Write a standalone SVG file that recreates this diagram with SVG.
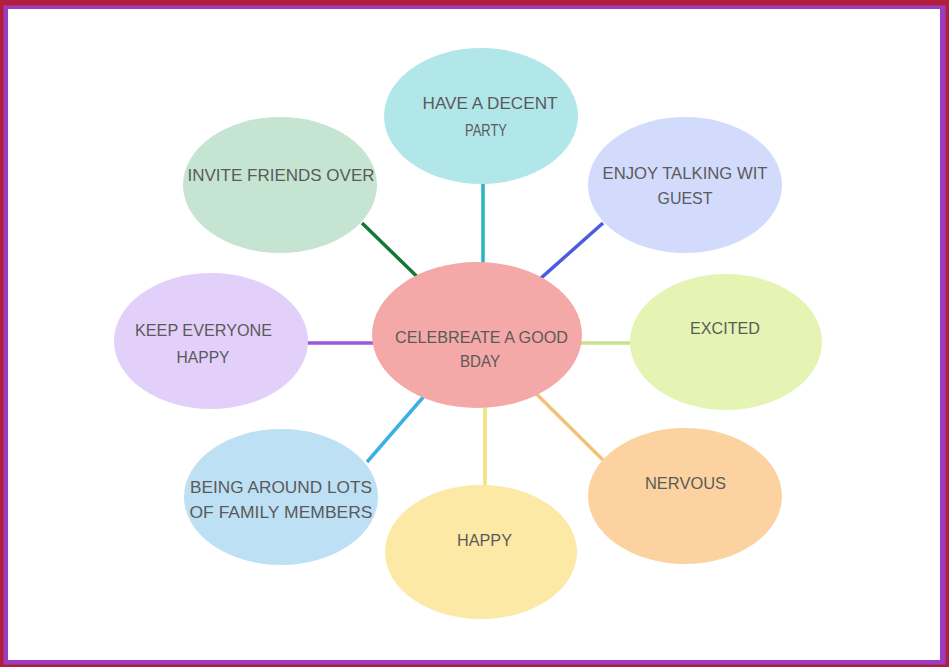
<svg xmlns="http://www.w3.org/2000/svg" width="949" height="667" viewBox="0 0 949 667">
<style>
.t{font-family:"Liberation Sans",Arial,sans-serif;font-size:17px;fill:#5a5a5a;text-anchor:middle}
.c{stroke-width:3.5;fill:none;stroke-linecap:butt}
</style>
<rect x="0" y="0" width="949" height="667" fill="#b21f3c"/>
<rect x="3.5" y="5.5" width="942" height="659" fill="#9c3cc2"/>
<rect x="8" y="9" width="932" height="651" fill="#ffffff"/>
<g id="connectors">
<line class="c" x1="477" y1="335" x2="362" y2="223" stroke="#13763a"/>
<line class="c" x1="483" y1="335" x2="483" y2="180" stroke="#26b3c2"/>
<line class="c" x1="477" y1="335" x2="603" y2="223" stroke="#4a5ce0"/>
<line class="c" x1="477" y1="343" x2="640" y2="343" stroke="#c9e38a"/>
<line class="c" x1="477" y1="343" x2="300" y2="343" stroke="#9a58dc"/>
<line class="c" x1="477" y1="335" x2="367" y2="462" stroke="#3ab0e6"/>
<line class="c" x1="485" y1="335" x2="485" y2="490" stroke="#f2e27a"/>
<line class="c" x1="477" y1="335" x2="603" y2="460" stroke="#f3c27a"/>
</g>
<g id="center">
<ellipse cx="477" cy="335" rx="105" ry="73" fill="#f4a9a8"/>
<text class="t" x="481.5" y="343" textLength="173" lengthAdjust="spacingAndGlyphs">CELEBREATE A GOOD</text>
<text class="t" x="480" y="367" textLength="40" lengthAdjust="spacingAndGlyphs">BDAY</text>
</g>
<g id="party">
<ellipse cx="481" cy="116" rx="97" ry="68" fill="#b2e7ea"/>
<text class="t" x="490" y="109" textLength="135" lengthAdjust="spacingAndGlyphs">HAVE A DECENT</text>
<text class="t" x="486" y="136" textLength="42" lengthAdjust="spacingAndGlyphs">PARTY</text>
</g>
<g id="invite">
<ellipse cx="280" cy="185" rx="97" ry="68" fill="#c5e4d1"/>
<text class="t" x="281" y="181" textLength="187" lengthAdjust="spacingAndGlyphs">INVITE FRIENDS OVER</text>
</g>
<g id="enjoy">
<ellipse cx="685" cy="185" rx="97" ry="68" fill="#d3dbfc"/>
<text class="t" x="685" y="179" textLength="165" lengthAdjust="spacingAndGlyphs">ENJOY TALKING WIT</text>
<text class="t" x="685" y="204" textLength="55" lengthAdjust="spacingAndGlyphs">GUEST</text>
</g>
<g id="keep">
<ellipse cx="211" cy="341" rx="97" ry="68" fill="#e2d0fa"/>
<text class="t" x="203.5" y="336" textLength="137" lengthAdjust="spacingAndGlyphs">KEEP EVERYONE</text>
<text class="t" x="203" y="363" textLength="53" lengthAdjust="spacingAndGlyphs">HAPPY</text>
</g>
<g id="excited">
<ellipse cx="726" cy="342" rx="96" ry="68" fill="#e5f4b3"/>
<text class="t" x="725" y="334" textLength="70" lengthAdjust="spacingAndGlyphs">EXCITED</text>
</g>
<g id="family">
<ellipse cx="281" cy="497" rx="97" ry="68" fill="#bde0f5"/>
<text class="t" x="281" y="493" textLength="182" lengthAdjust="spacingAndGlyphs">BEING AROUND LOTS</text>
<text class="t" x="281" y="518" textLength="183" lengthAdjust="spacingAndGlyphs">OF FAMILY MEMBERS</text>
</g>
<g id="nervous">
<ellipse cx="685" cy="496" rx="97" ry="68" fill="#fcd3a0"/>
<text class="t" x="685.5" y="489" textLength="81" lengthAdjust="spacingAndGlyphs">NERVOUS</text>
</g>
<g id="happy">
<ellipse cx="481" cy="552" rx="96" ry="67" fill="#fde9a6"/>
<text class="t" x="484.5" y="546" textLength="55" lengthAdjust="spacingAndGlyphs">HAPPY</text>
</g>
</svg>
